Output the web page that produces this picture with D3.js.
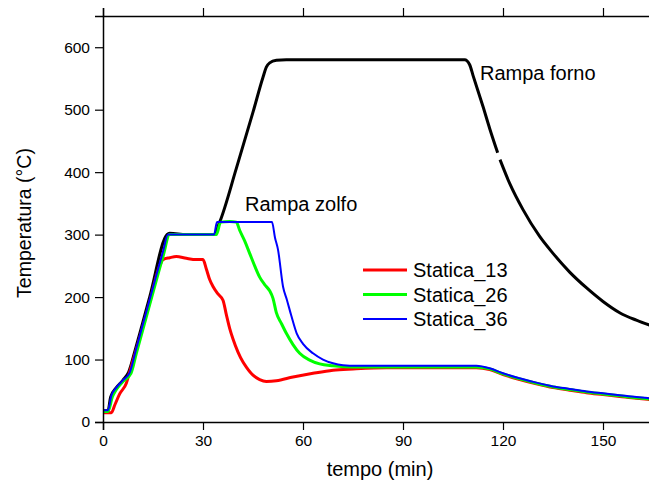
<!DOCTYPE html>
<html>
<head>
<meta charset="utf-8">
<script src="https://cdn.jsdelivr.net/npm/d3@7"></script>
<style>
  body { margin: 0; background: #fff; }
  text { font-family: "Liberation Sans", Arial, sans-serif; fill: #000; }
</style>
</head>
<body>
<div id="chart"></div>
<script>

// data (tempo in min, temperatura in °C)
var tForno = [0, 1.5, 2.3, 4, 6, 7.7, 10, 14, 19.2, 20, 25, 30, 33.3, 35, 40, 45, 48, 49, 50, 52, 55, 60, 70, 80, 90, 100, 108.5, 110, 111, 114, 116, 118.4, 118.7, 119.1, 122, 126, 131, 135, 140, 145, 150, 155, 160, 164];
var vForno = [18, 18, 40, 55, 67, 80, 122, 200, 300, 302, 300, 300, 300, 320, 406, 496, 552, 568, 575, 579, 580, 580, 580, 580, 580, 580, 580, 572, 555, 505, 470, 431, null, 420, 382, 340, 297, 270, 240, 215, 193, 175, 163, 155];

var t13 = [0, 2.5, 3.6, 5, 7, 8, 10, 14, 17, 18, 20, 22, 25, 28, 30, 31, 32, 33, 34.5, 36, 37, 38, 39, 40.5, 42, 43, 45, 47, 49, 52, 57, 63, 69, 75, 85, 100, 112, 116, 120, 125, 130, 135, 140, 145, 150, 155, 160, 164];
var v13 = [15, 15, 28, 45, 62, 80, 116, 192, 250, 260, 263, 265, 262, 260, 260, 245, 228, 217, 205, 195, 172, 150, 133, 112, 96, 88, 75, 68, 65, 66, 72, 78, 83, 85, 87, 87, 87, 84, 76, 68, 61, 55, 51, 47, 44, 41, 38, 36];

var t26 = [0, 1.5, 2.8, 4, 6, 8.4, 10, 14, 18, 20, 25, 30, 34, 35.3, 38, 40, 41, 42.5, 44, 45.5, 47, 48.5, 50, 51, 52, 53.5, 55, 57, 59, 62, 65, 69, 75, 90, 100, 112, 116, 120, 125, 130, 135, 140, 145, 150, 155, 160, 164];
var v26 = [17, 17, 40, 52, 65, 78, 110, 188, 265, 300, 300, 300, 300, 320, 321, 320, 307, 290, 270, 250, 232, 220, 210, 198, 175, 158, 142, 124, 110, 99, 93, 90, 88, 88, 88, 88, 85, 77, 69, 62, 56, 52, 48, 45, 42, 39, 37];

var t36 = [0, 1.5, 2.5, 4, 6, 8, 10, 14, 18, 19.5, 20, 25, 30, 33.3, 34.2, 40, 45, 50.7, 51.6, 52.5, 54, 55.2, 56.5, 58.1, 60, 63, 66, 69, 72, 76, 80, 90, 100, 108, 112, 116, 120, 125, 130, 135, 140, 145, 150, 155, 160, 164];
var v36 = [19, 19, 42, 55, 67, 79, 118, 196, 273, 300, 300, 300, 300, 300, 320, 320, 320, 320, 295, 276, 217, 195, 170, 142, 125, 110, 100, 94, 91, 90, 90, 90, 90, 90, 90, 86, 78, 70, 63, 57, 53, 49, 46, 43, 40, 38];

var seriesNames = ["Statica_13", "Statica_26", "Statica_36"];
var xTicks = [0, 30, 60, 90, 120, 150];
var yTicks = [0, 100, 200, 300, 400, 500, 600];

render_chart();

function render_chart(){

  var width = 649,
      height = 483;

  var x = d3.scaleLinear().domain([0, 165]).range([103, 653]);
  var y = d3.scaleLinear().domain([0, 650]).range([422, 16]);

  var svg = d3.select("#chart").append("svg")
    .attr("width", width)
    .attr("height", height);

  function zip(ts, vs){
    return ts.map(function(t, i){ return [t, vs[i]]; });
  }

  var series = [
    {data: zip(tForno, vForno), color: "#000000", w: 3},
    {data: zip(t13, v13), color: "#ff0000", w: 3, name: seriesNames[0]},
    {data: zip(t26, v26), color: "#00ff00", w: 3, name: seriesNames[1]},
    {data: zip(t36, v36), color: "#0000ff", w: 2, name: seriesNames[2]}
  ];

  var line = d3.line()
    .defined(function(d){ return d[1] != null; })
    .x(function(d){ return x(d[0]); })
    .y(function(d){ return y(d[1]); })
    .curve(d3.curveMonotoneX);

  svg.selectAll(".serie")
    .data(series)
    .enter().append("path")
    .attr("class", "serie")
    .attr("d", function(d){ return line(d.data); })
    .attr("fill", "none")
    .attr("stroke", function(d){ return d.color; })
    .attr("stroke-width", function(d){ return d.w; })
    .attr("stroke-linejoin", "round");

  // axes, ticks outside
  var xMinor = d3.range(0, 166, 15);
  var yMinor = d3.range(0, 651, 50);

  var bottom = svg.append("g").attr("transform", "translate(0,422)");
  bottom.call(d3.axisBottom(x).tickValues(xMinor).tickSize(4).tickFormat(""));
  bottom.call(d3.axisBottom(x).tickValues(xTicks).tickSize(8).tickPadding(5).tickFormat(d3.format("d")));

  var top = svg.append("g").attr("transform", "translate(0,16)");
  top.call(d3.axisTop(x).tickValues(xMinor).tickSize(4).tickFormat(""));
  top.call(d3.axisTop(x).tickValues(xTicks).tickSize(8).tickFormat(""));

  var left = svg.append("g").attr("transform", "translate(103,0)");
  left.call(d3.axisLeft(y).tickValues(yMinor).tickSize(4).tickFormat(""));
  left.call(d3.axisLeft(y).tickValues(yTicks).tickSize(8).tickPadding(5).tickFormat(d3.format("d")));

  svg.selectAll(".domain").attr("stroke", "#000").attr("stroke-width", 1.5);
  svg.selectAll(".tick line").attr("stroke", "#000").attr("stroke-width", 1.2);
  svg.selectAll(".tick text")
    .attr("font-size", "15.5px")
    .attr("font-family", "Liberation Sans, Arial, sans-serif")
    .attr("fill", "#000");

  // axis titles
  svg.append("text")
    .attr("x", 380)
    .attr("y", 476)
    .attr("text-anchor", "middle")
    .attr("font-size", "20px")
    .text("tempo (min)");

  svg.append("text")
    .attr("transform", "translate(31,223) rotate(-90)")
    .attr("text-anchor", "middle")
    .attr("font-size", "19.5px")
    .text("Temperatura (°C)");

  // annotations
  svg.append("text")
    .attr("x", 480)
    .attr("y", 80)
    .attr("font-size", "20px")
    .text("Rampa forno");

  svg.append("text")
    .attr("x", 245)
    .attr("y", 211)
    .attr("font-size", "20px")
    .text("Rampa zolfo");

  // legend
  var leg = svg.selectAll(".leg")
    .data(series.slice(1))
    .enter().append("g")
    .attr("class", "leg")
    .attr("transform", function(d, i){ return "translate(363," + (270 + i * 24.5) + ")"; });

  leg.append("line")
    .attr("x1", 0).attr("x2", 44)
    .attr("stroke", function(d){ return d.color; })
    .attr("stroke-width", function(d){ return d.w; });

  leg.append("text")
    .attr("x", 50)
    .attr("y", 7)
    .attr("font-size", "20px")
    .text(function(d){ return d.name; });
}

</script>
</body>
</html>
